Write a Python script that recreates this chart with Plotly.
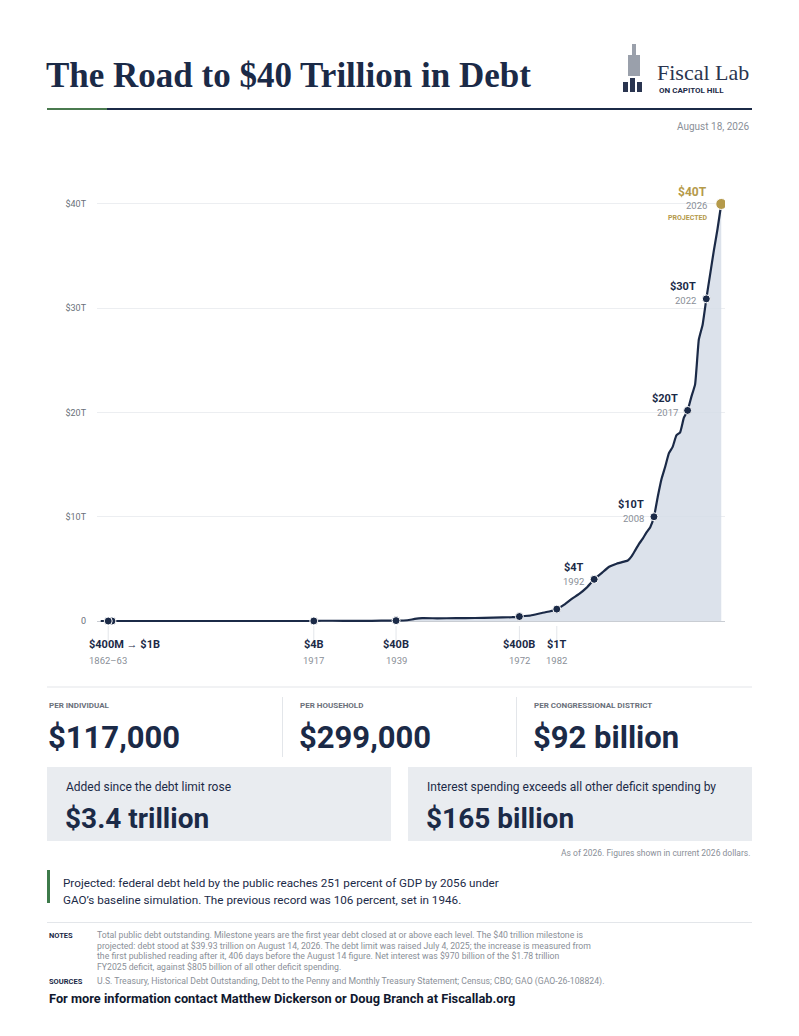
import plotly.graph_objects as go

# annual gross debt, trillions of dollars
years = [1860, 1862, 1863, 1870, 1880, 1890, 1900, 1910, 1916, 1917, 1919, 1925, 1930, 1935, 1939,
         1942, 1944, 1946, 1950, 1955, 1960, 1965, 1970, 1972, 1975, 1978, 1980, 1982, 1984, 1986,
         1988, 1990, 1992, 1994, 1996, 1998, 2000, 2001, 2002, 2003, 2004, 2005, 2006, 2007, 2008,
         2009, 2010, 2011, 2012, 2013, 2014, 2015, 2016, 2017, 2018, 2019, 2020, 2021, 2022,
         2023, 2024, 2025, 2026]
debt = [0.0001, 0.0005, 0.001, 0.0024, 0.002, 0.0012, 0.0012, 0.0012, 0.0012, 0.004, 0.027, 0.021,
        0.016, 0.029, 0.040, 0.072, 0.20, 0.27, 0.26, 0.27, 0.29, 0.32, 0.37, 0.43, 0.53, 0.77,
        0.91, 1.14, 1.57, 2.13, 2.6, 3.2, 4.0, 4.6, 5.2, 5.5, 5.7, 5.8, 6.2, 6.8, 7.4, 7.9, 8.5,
        9.0, 10.0, 11.9, 13.6, 14.8, 16.1, 16.7, 17.8, 18.1, 19.5, 20.2, 21.5, 22.7, 27.0, 28.4,
        30.9, 33.2, 35.5, 37.6, 40.0]

low_years = [1862, 1917, 1939, 1972, 1982]
low_vals = [0.0005, 0.004, 0.040, 0.43, 1.14]
low_labels = ["$400M → $1B", "$4B", "$40B", "$400B", "$1T"]
low_yearlabels = ["1862–63", "1917", "1939", "1972", "1982"]

high_years = [1992, 2008, 2017, 2022]
high_vals = [4.0, 10.0, 20.2, 30.9]
high_labels = ["$4T", "$10T", "$20T", "$30T"]

proj_year = 2026
proj_val = 40.0

tick_vals = [0, 10, 20, 30, 40]
tick_text = ["0", "$10T", "$20T", "$30T", "$40T"]

stat_labels = ["PER INDIVIDUAL", "PER HOUSEHOLD", "PER CONGRESSIONAL DISTRICT"]
stat_values = ["$117,000", "$299,000", "$92 billion"]
box_labels = ["Added since the debt limit rose", "Interest spending exceeds all other deficit spending by"]
box_values = ["$3.4 trillion", "$165 billion"]

NAVY = "#1b2a47"
GREY = "#8a8f98"
GOLD = "#b59a4a"
SANS = "Roboto"
SERIF = "Liberation Serif"

W, H = 799, 1036
OFF = 8  # page margin of the browser
L, T = 97 - OFF, 180 - OFF
R, B = W - 725 + OFF, H - 640 + OFF


def px(x):
    return (x - OFF - L) / (W - L - R)


def py(y):
    return (H - B - (y - OFF)) / (H - T - B)


fig = go.Figure()
fig.add_trace(go.Scatter(x=years, y=debt, mode="lines", line=dict(color=NAVY, width=2.2, shape="spline", smoothing=0.4),
                         fill="tozeroy", fillcolor="rgba(214,221,232,0.85)", hoverinfo="skip"))
fig.add_trace(go.Scatter(x=[1863] + low_years + high_years, y=[0.001] + low_vals + high_vals, mode="markers",
                         marker=dict(color=NAVY, size=8, line=dict(color="white", width=1))))
fig.add_trace(go.Scatter(x=[proj_year], y=[proj_val], mode="markers",
                         marker=dict(color=GOLD, size=11, line=dict(color="white", width=1))))

ann = []
shapes = []
for yr, lab, yl, i in zip(low_years, low_labels, low_yearlabels, range(5)):
    xa = "left" if i == 0 else "center"
    xs = -21 if i == 0 else 0
    ann.append(dict(x=yr, y=py(653), xref="x", yref="paper", text=lab, showarrow=False, xanchor=xa, xshift=xs,
                    font=dict(family=SANS, size=11, color=NAVY, weight="bold")))
    ann.append(dict(x=yr, y=py(668), xref="x", yref="paper", text=yl, showarrow=False, xanchor=xa, xshift=xs,
                    font=dict(family=SANS, size=9.5, color=GREY)))
    shapes.append(dict(type="line", xref="x", yref="paper", x0=yr, x1=yr, y0=py(626), y1=py(644),
                       line=dict(color="#e3e6ea", width=1)))

for yr, v, lab in zip(high_years, high_vals, high_labels):
    ann.append(dict(x=yr, y=v, text=lab, showarrow=False, xanchor="right", xshift=-8, yshift=12,
                    font=dict(family=SANS, size=11, color=NAVY, weight="bold")))
    ann.append(dict(x=yr, y=v, text=str(yr), showarrow=False, xanchor="right", xshift=-8, yshift=-2,
                    font=dict(family=SANS, size=9.5, color=GREY)))
ann.append(dict(x=proj_year, y=proj_val, text="$40T", showarrow=False, xanchor="right", xshift=-12, yshift=12,
                font=dict(family=SANS, size=12, color=GOLD, weight="bold")))
ann.append(dict(x=proj_year, y=proj_val, text=str(proj_year), showarrow=False, xanchor="right", xshift=-12, yshift=-2,
                font=dict(family=SANS, size=9.5, color=GREY)))
ann.append(dict(x=proj_year, y=proj_val, text="PROJECTED", showarrow=False, xanchor="right", xshift=-12, yshift=-14,
                font=dict(family=SANS, size=7, color=GOLD, weight="bold")))


def txt(x, y, s, size, color, bold=False, family=SANS, xanchor="left"):
    ann.append(dict(x=px(x), y=py(y), xref="paper", yref="paper", text=s, showarrow=False, xanchor=xanchor,
                    yanchor="middle", align="left", xshift=0,
                    font=dict(family=family, size=size, color=color, weight="bold" if bold else "normal")))


def rect(x0, y0, x1, y1, fill):
    shapes.append(dict(type="rect", xref="paper", yref="paper", x0=px(x0), x1=px(x1), y0=py(y0), y1=py(y1),
                       fillcolor=fill, line=dict(width=0), layer="below"))


# header
txt(44, 75, "The Road to $40 Trillion in Debt", 35, NAVY, True, SERIF)
txt(655, 72, "Fiscal Lab", 22, "#2a3550", False, SERIF)
txt(657, 90, "ON CAPITOL HILL", 8, NAVY, True)
for x0, h in [(623, 10), (630, 14), (637, 10)]:
    rect(x0, 92 - h, x0 + 5, 92, "#2a3550")
rect(628, 55, 640, 76, "#9aa0ab")
rect(632, 44, 636, 55, "#9aa0ab")
rect(47, 108, 752, 110, NAVY)
rect(47, 108, 107, 110, "#4a7a4f")
txt(752, 126, "August 18, 2026", 10, GREY, xanchor="right")

# stats
rect(47, 686.5, 752, 687.5, "#e3e6ea")
for i, (lab, val, x) in enumerate(zip(stat_labels, stat_values, [47, 298, 532])):
    txt(x, 705, lab, 8, "#6a707a", True)
    txt(x - 1, 737, val, 31, NAVY, True)
for x in [282, 516]:
    rect(x, 697, x + 1, 757, "#e3e6ea")
for (x0, x1), lab, val in zip([(47, 391), (408, 752)], box_labels, box_values):
    rect(x0, 767, x1, 841, "#e9ecf0")
    txt(x0 + 17, 787, lab, 12, NAVY)
    txt(x0 + 16, 818, val, 28, NAVY, True)
txt(752, 853, "As of 2026. Figures shown in current 2026 dollars.", 8.5, GREY, xanchor="right")

# callout
rect(47, 870, 50, 903, "#3d7a4a")
txt(61, 883, "Projected: federal debt held by the public reaches 251 percent of GDP by 2056 under", 11.7, NAVY)
txt(61, 900, "GAO’s baseline simulation. The previous record was 106 percent, set in 1946.", 11.7, NAVY)
rect(47, 922, 752, 923, "#e3e6ea")

notes = ["Total public debt outstanding. Milestone years are the first year debt closed at or above each level. The $40 trillion milestone is",
         "projected: debt stood at $39.93 trillion on August 14, 2026. The debt limit was raised July 4, 2025; the increase is measured from",
         "the first published reading after it, 406 days before the August 14 figure. Net interest was $970 billion of the $1.78 trillion",
         "FY2025 deficit, against $805 billion of all other deficit spending."]
txt(47, 935, "NOTES", 7.5, NAVY, True)
for i, line in enumerate(notes):
    txt(95, 935 + i * 10.7, line, 8.7, GREY)
txt(47, 981, "SOURCES", 7.5, NAVY, True)
txt(95, 981, "U.S. Treasury, Historical Debt Outstanding, Debt to the Penny and Monthly Treasury Statement; Census; CBO; GAO (GAO-26-108824).", 8.7, GREY)
txt(47, 998, "For more information contact Matthew Dickerson or Doug Branch at Fiscallab.org", 12.8, "#10182e", True)

fig.update_layout(
    width=W, height=H, margin=dict(l=L, r=R, t=T, b=B),
    plot_bgcolor="white", paper_bgcolor="white", showlegend=False,
    xaxis=dict(range=[1859, 2027], visible=False, showgrid=False, zeroline=False),
    yaxis=dict(range=[-1.82, 42.3], tickvals=tick_vals, ticktext=tick_text, showgrid=True, gridcolor="#eceef1",
               zeroline=True, zerolinecolor="#c9cdd3", zerolinewidth=1, ticks="", ticklabelstandoff=10,
               tickfont=dict(family=SANS, size=9, color="#6a707a")),
    annotations=ann, shapes=shapes,
)
fig.write_html("out.html")
